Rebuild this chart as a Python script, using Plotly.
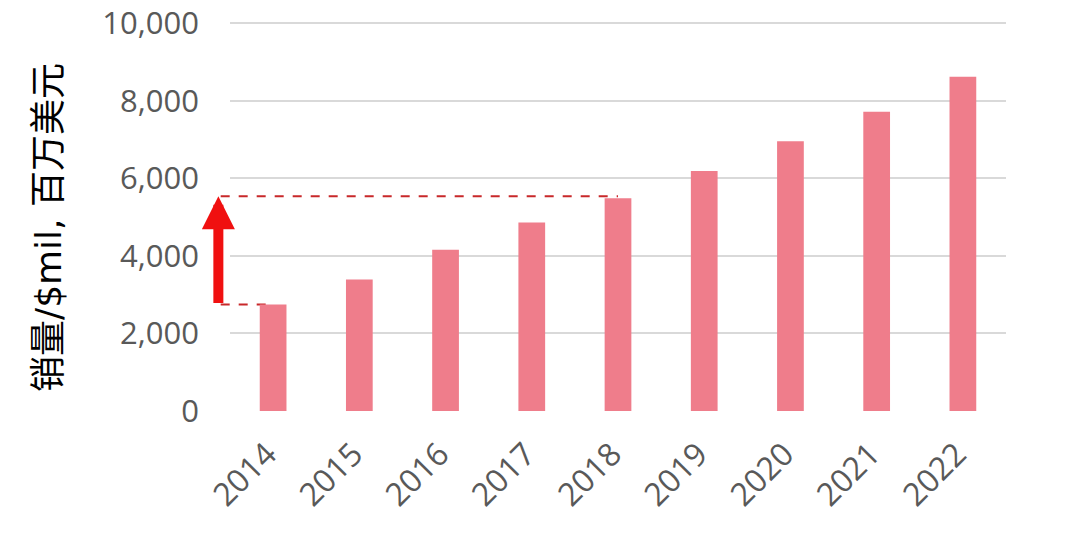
import plotly.graph_objects as go

years = ["2014", "2015", "2016", "2017", "2018", "2019", "2020", "2021", "2022"]
sales = [2750, 3390, 4160, 4860, 5490, 6190, 6960, 7720, 8620]
y_ticks = [0, 2000, 4000, 6000, 8000, 10000]
y_tick_text = ["0", "2,000", "4,000", "6,000", "8,000", "10,000"]
arrow_base = 2750
arrow_top = 5540
y_title = "销量/$mil, 百万美元"

BAR = "#EF7D8B"
ARROW = "#F01010"
DASH = "#C8282A"
TICK = "#595959"

n = len(years)


def cat_paper(i):
    # paper x of the centre of category i, for a category range of [-0.5, n-0.5]
    return (i + 0.5) / n


fig = go.Figure()
fig.add_trace(go.Bar(x=years, y=sales, marker=dict(color=BAR, line=dict(width=0)), width=0.31))

start_x = -0.012
fig.add_shape(type="line", xref="paper", yref="y", x0=start_x, x1=cat_paper(4),
              y0=arrow_top, y1=arrow_top, line=dict(color=DASH, width=2, dash="dash"), layer="below")
fig.add_shape(type="line", xref="paper", yref="y", x0=start_x, x1=cat_paper(0),
              y0=arrow_base, y1=arrow_base, line=dict(color=DASH, width=2, dash="dash"), layer="below")

fig.add_annotation(x=-0.015, xref="paper", y=arrow_top, yref="y",
                   ax=0, axref="pixel", ay=arrow_base, ayref="y",
                   text="", showarrow=True, arrowhead=2, arrowsize=0.66,
                   arrowwidth=10, arrowcolor=ARROW, standoff=0)

# y-axis title placed as a rotated annotation
fig.add_annotation(x=0, xref="paper", y=0.5, yref="paper", xanchor="center", yanchor="middle",
                   xshift=-182, yshift=-12, textangle=-90, showarrow=False, text=y_title,
                   font=dict(size=36, color="black", family="DejaVu Sans, Noto Sans CJK SC"))

fig.update_layout(
    width=1071, height=553,
    margin=dict(l=230, r=65, t=21, b=142),
    paper_bgcolor="white", plot_bgcolor="white",
    showlegend=False,
    bargap=0.69,
    font=dict(family="Open Sans, Noto Sans CJK SC", color=TICK),
)
fig.update_xaxes(type="category", range=[-0.5, n - 0.5], tickangle=-45, automargin=False,
                 tickfont=dict(size=32, color=TICK, family="Open Sans"),
                 ticklabelstandoff=17, ticklabelshift=-6, ticklabeloverflow="allow",
                 showgrid=False, showline=False, ticks="", zeroline=False)
fig.update_yaxes(range=[0, 10060], tickvals=y_ticks, ticktext=y_tick_text, automargin=False,
                 tickfont=dict(size=31, color=TICK, family="Open Sans"),
                 ticklabeloverflow="allow",
                 showgrid=True, gridcolor="#D9D9D9", gridwidth=2, zeroline=False,
                 showline=False, ticks="", ticklabelstandoff=30)

fig.write_html("out.html", config={"displayModeBar": False},
               post_script="document.body.style.margin='0';")
